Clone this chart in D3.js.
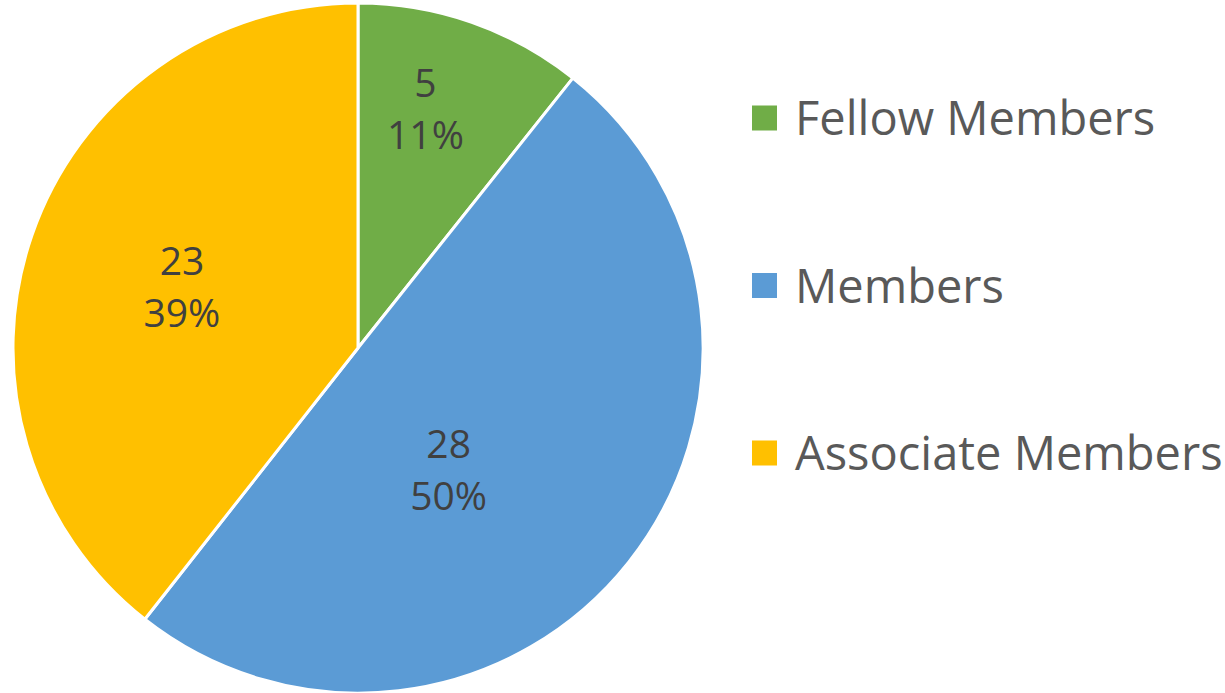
<!DOCTYPE html>
<html>
<head>
<meta charset="utf-8">
<script src="https://cdn.jsdelivr.net/npm/d3@7"></script>
<style>
  body { margin: 0; background: #fff; }
  svg { display: block; }
</style>
</head>
<body>
<div id="chart"></div>
<script>
// == data
const categories = ["Fellow Members", "Members", "Associate Members"];
const counts = [5, 28, 23];
const shares = [10.7, 49.9, 39.4];   // percent, labels show them rounded
const colors = ["#70AD47", "#5B9BD5", "#FFC000"];

const WIDTH = 1225;
const HEIGHT = 693;
const CX = 358, CY = 348, R = 345;
const FONT = "'Open Sans', sans-serif";

// label placement (fraction of radius, angle shift in degrees) per slice
const labelLayout = [[0.72, -3.5], [0.44, 15], [0.54, 0]];

const svg = d3.select("#chart")
  .append("svg")
    .attr("width", WIDTH)
    .attr("height", HEIGHT);

const data = categories.map((c, i) => ({ name: c, count: counts[i], share: shares[i], color: colors[i] }));

const pie = d3.pie()
  .sort(null)
  .value(d => d.share);

const arc = d3.arc()
  .innerRadius(0)
  .outerRadius(R);

const g = svg.append("g")
  .attr("transform", `translate(${CX}, ${CY})`);

const arcs = pie(data);

g.selectAll("path")
  .data(arcs)
  .enter().append("path")
    .attr("d", arc)
    .attr("fill", d => d.data.color)
    .attr("stroke", "#fff")
    .attr("stroke-width", 3)
    .attr("stroke-linejoin", "round");

// data labels
const labels = g.selectAll("g.label")
  .data(arcs)
  .enter().append("g")
    .attr("class", "label")
    .attr("transform", (d, i) => {
      const [f, shift] = labelLayout[i];
      const a = (d.startAngle + d.endAngle) / 2 + shift * Math.PI / 180;
      return `translate(${Math.sin(a) * R * f}, ${-Math.cos(a) * R * f})`;
    });

labels.append("text")
  .attr("text-anchor", "middle")
  .attr("y", -12)
  .style("font", `39px ${FONT}`)
  .style("fill", "#404040")
  .text(d => d.data.count);

labels.append("text")
  .attr("text-anchor", "middle")
  .attr("y", 40)
  .style("font", `39px ${FONT}`)
  .style("fill", "#404040")
  .text(d => Math.round(d.data.share) + "%");

// legend
const legend = svg.append("g")
  .attr("transform", "translate(752, 118)");

const items = legend.selectAll("g")
  .data(data)
  .enter().append("g")
    .attr("transform", (d, i) => `translate(0, ${i * 167.5})`);

items.append("rect")
  .attr("x", 0)
  .attr("y", -12.5)
  .attr("width", 25)
  .attr("height", 25)
  .attr("fill", d => d.color);

items.append("text")
  .attr("x", 43)
  .attr("y", 17)
  .style("font", `47px ${FONT}`)
  .style("fill", "#595959")
  .text(d => d.name);
</script>
</body>
</html>
